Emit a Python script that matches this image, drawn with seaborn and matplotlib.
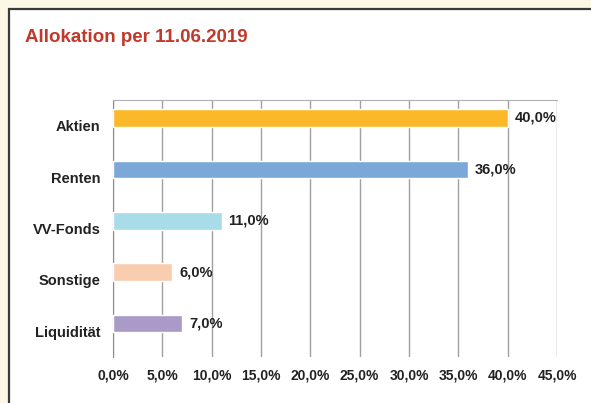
import matplotlib
matplotlib.use("Agg")
import matplotlib.pyplot as plt
import matplotlib.patches as mpatches
from matplotlib.ticker import FuncFormatter, FixedLocator
import seaborn as sns
import pandas as pd

# data
categories = ["Aktien", "Renten", "VV-Fonds", "Sonstige", "Liquidität"]
shares = [40.0, 36.0, 11.0, 6.0, 7.0]
bar_colors = ["#fbb829", "#7ba8d9", "#a8dce9", "#f9cdb0", "#a99ac8"]
x_ticks = [0, 5, 10, 15, 20, 25, 30, 35, 40, 45]

df = pd.DataFrame({"category": categories, "share": shares})

sns.set_style("white")
plt.rcParams["font.family"] = ["Liberation Sans", "DejaVu Sans"]

fig = plt.figure(figsize=(5.91, 4.03), dpi=100)
fig.patch.set_facecolor("#fcf8e6")

# white panel with dark frame (runs off the right and bottom edge)
panel = mpatches.Rectangle((9.5 / 591, -0.05), 1.1, 1 - 8.5 / 403 + 0.05,
                           transform=fig.transFigure, facecolor="white",
                           edgecolor="#3a3a3a", linewidth=1.6, zorder=-5)
fig.patches.append(panel)

fig.text(25 / 591, 1 - 42 / 403, "Allokation per 11.06.2019",
         color="#c0392b", fontsize=13.5, fontweight="bold",
         va="baseline", ha="left")

ax = fig.add_axes([113 / 591, 1 - 357 / 403, (557 - 113) / 591, (357 - 100) / 403])
ax.set_facecolor("none")

sns.barplot(data=df, y="category", x="share", hue="category",
            palette=bar_colors, orient="h", width=0.34, legend=False,
            saturation=1, ax=ax, zorder=3)

# Excel-style layout: bars sit a bit above the centre of their category band
bar_shift = -0.15
for p in ax.patches:
    p.set_y(p.get_y() + bar_shift)

ax.set_xlim(0, 45)
ax.set_ylim(len(categories) - 0.5, -0.5)
ax.xaxis.set_major_locator(FixedLocator(x_ticks))
ax.xaxis.set_major_formatter(FuncFormatter(lambda v, p: f"{v:.1f}%".replace(".", ",")))
ax.grid(axis="x", color="#a0a0a0", linewidth=1.0, zorder=0)
ax.set_axisbelow(True)
ax.set_xlabel("")
ax.set_ylabel("")

for s in ["right", "bottom"]:
    ax.spines[s].set_visible(False)
ax.spines["left"].set_color("#8c8c8c")
ax.spines["top"].set_color("#b0b0b0")

ax.tick_params(axis="x", length=0, pad=8, labelsize=10, labelcolor="#222222")
ax.tick_params(axis="y", length=0, pad=9, labelsize=10.5, labelcolor="#222222")
ax.yaxis.set_minor_locator(FixedLocator([i - 0.5 for i in range(len(categories) + 1)]))
ax.tick_params(axis="y", which="minor", length=4, color="#8c8c8c", width=1)
for lab in ax.get_xticklabels() + ax.get_yticklabels():
    lab.set_fontweight("bold")

for i, v in enumerate(shares):
    ax.text(v + 0.7, i + bar_shift, f"{v:.1f}%".replace(".", ","), va="center", ha="left",
            fontsize=10.5, fontweight="bold", color="#222222", zorder=4)

fig.savefig("out.png", dpi=100, facecolor=fig.get_facecolor())
